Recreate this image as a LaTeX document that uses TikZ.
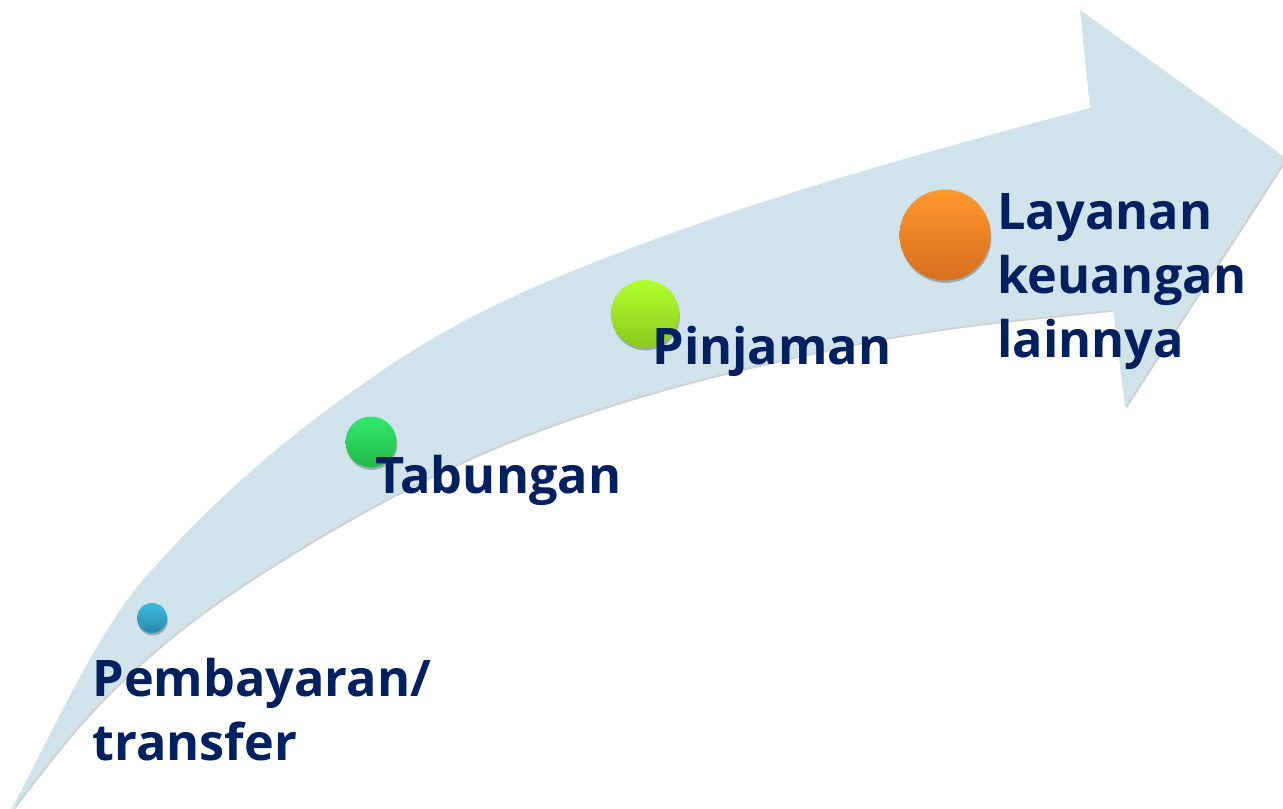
\documentclass[tikz,border=0pt]{standalone}
\usepackage{fontspec}
\setmainfont{Open Sans}
\usetikzlibrary{shadows}
\definecolor{arrowfill}{RGB}{208,226,234}
\definecolor{navy}{RGB}{0,32,96}
\definecolor{blueT}{RGB}{60,186,222}
\definecolor{blueB}{RGB}{40,140,176}
\definecolor{greenT}{RGB}{48,234,106}
\definecolor{greenB}{RGB}{36,184,74}
\definecolor{limeT}{RGB}{176,255,46}
\definecolor{limeB}{RGB}{138,200,30}
\definecolor{orangeT}{RGB}{255,152,46}
\definecolor{orangeB}{RGB}{214,110,32}
\begin{document}
\begin{tikzpicture}[x=0.5pt,y=-0.5pt,
  lbl/.style={font=\bfseries\fontsize{25.2pt}{32pt}\selectfont, text=navy,
    inner sep=0pt, anchor=base west, align=left},
  dot/.style={circle, inner sep=0pt, draw=none,
    drop shadow={shadow xshift=0.4pt, shadow yshift=-1.2pt, opacity=0.25, fill=black}},
  swoosh/.style={fill=arrowfill,
    drop shadow={shadow xshift=0.8pt, shadow yshift=-0.8pt, opacity=0.18, fill=black}}]
\useasboundingbox (0,0) rectangle (1283,808);
% curved arrow
\path[swoosh]
  (10,812) .. controls (54.3,727.8) and (98.7,631) .. (143,580)
  .. controls (223,488) and (303,424.4) .. (383,370)
  .. controls (473,308.8) and (563,273.3) .. (653,240)
  .. controls (798.7,186.1) and (944.3,147.3) .. (1090,108)
  -- (1080,10) -- (1286,158) -- (1125,407) -- (1113,310)
  .. controls (1025.3,318.8) and (937.7,326.6) .. (850,345)
  .. controls (737.7,368.6) and (625.3,395.1) .. (513,440)
  .. controls (425.3,475.1) and (337.7,523) .. (250,580)
  .. controls (196.7,614.7) and (143.3,655.4) .. (90,713)
  .. controls (63.3,741.8) and (36.7,777.3) .. (10,812)
  -- cycle;
% dots
\node[dot, minimum size=15pt, top color=blueT, bottom color=blueB] (d1) at (152,618) {};
\node[dot, minimum size=25.5pt, top color=greenT, bottom color=greenB] (d2) at (371,442) {};
\node[dot, minimum size=34pt, top color=limeT, bottom color=limeB] (d3) at (645,314) {};
\node[dot, minimum size=45.5pt, top color=orangeT, bottom color=orangeB] (d4) at (945,235) {};
% labels (base anchor = baseline of the last line)
\node[lbl] (t1) at (92,760) {Pembayaran/\\transfer};
\node[lbl] (t2) at (375,493) {Tabungan};
\node[lbl] (t3) at (652,364) {Pinjaman};
\node[lbl] (t4) at (997,357) {Layanan\\keuangan\\lainnya};
\end{tikzpicture}
\end{document}
